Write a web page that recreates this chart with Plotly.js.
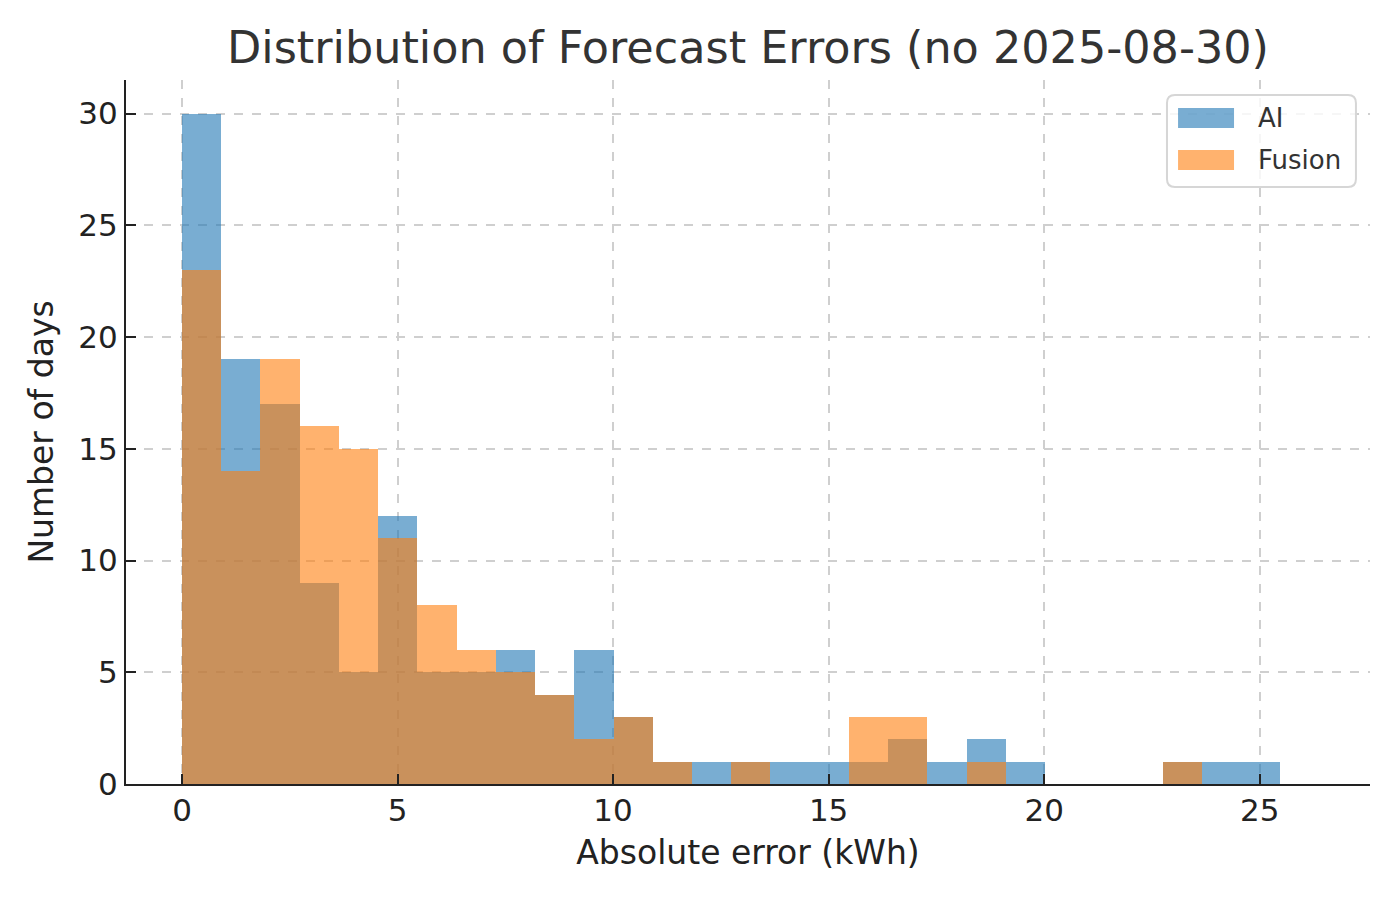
<!DOCTYPE html>
<html>
<head>
<meta charset="utf-8">
<script src="https://cdn.plot.ly/plotly-3.0.1.min.js"></script>
<style>
    html, body { margin: 0; padding: 0; background: #fff; }
    #chart { width: 1400px; height: 900px; }
</style>
</head>
<body>
<div id="chart"></div>
<script>
// histogram bins: 28 equal bins starting at 0
const binStart = 0;
const binWidth = 0.91;

const aiCounts = [30, 19, 17, 9, 5, 12, 5, 5, 6, 4, 6, 3, 1, 1,
    1, 1, 1, 1, 2, 1, 2, 1, 0, 0, 0, 1, 1, 1];
const fusionCounts = [23, 14, 19, 16, 15, 11, 8, 6, 5, 4, 2, 3, 1, 0,
    1, 0, 0, 3, 3, 0, 1, 0, 0, 0, 0, 1, 0, 0];

const seriesNames = ['AI', 'Fusion'];
const xTicks = [0, 5, 10, 15, 20, 25];
const yTicks = [0, 5, 10, 15, 20, 25, 30];

const blue = 'rgba(31,119,180,0.6)';
const orange = 'rgba(255,127,14,0.6)';
const font = 'DejaVu Sans, sans-serif';

const aiTrace = {
    type: 'bar',
    y: aiCounts,
    x0: binStart + binWidth / 2,
    dx: binWidth,
    width: binWidth,
    name: seriesNames[0],
    marker: { color: blue, line: { width: 0 } },
    showlegend: false,
};

const fusionTrace = {
    type: 'bar',
    y: fusionCounts,
    x0: binStart + binWidth / 2,
    dx: binWidth,
    width: binWidth,
    name: seriesNames[1],
    marker: { color: orange, line: { width: 0 } },
    showlegend: false,
};

// legend drawn by hand so the patches get matplotlib's size
function roundRect(x0, y0, x1, y1, rx, ry) {
    return `M${x0 + rx},${y0} L${x1 - rx},${y0} Q${x1},${y0} ${x1},${y0 + ry} ` +
        `L${x1},${y1 - ry} Q${x1},${y1} ${x1 - rx},${y1} L${x0 + rx},${y1} ` +
        `Q${x0},${y1} ${x0},${y1 - ry} L${x0},${y0 + ry} Q${x0},${y0} ${x0 + rx},${y0} Z`;
}

const legendShapes = [
    {
        type: 'path', xref: 'paper', yref: 'paper', layer: 'above',
        path: roundRect(0.8368, 0.848, 0.9887, 0.9787, 0.0064, 0.0114),
        fillcolor: 'rgba(255,255,255,0.8)',
        line: { color: '#d6d6d6', width: 2 },
    },
    {
        type: 'rect', xref: 'paper', yref: 'paper', layer: 'above',
        x0: 0.8457, x1: 0.8907, y0: 0.9318, y1: 0.9602,
        fillcolor: blue, line: { width: 0 },
    },
    {
        type: 'rect', xref: 'paper', yref: 'paper', layer: 'above',
        x0: 0.8457, x1: 0.8907, y0: 0.8722, y1: 0.9006,
        fillcolor: orange, line: { width: 0 },
    },
];

const legendLabels = seriesNames.map((name, i) => ({
    xref: 'paper', yref: 'paper',
    x: 0.9084, y: [0.946, 0.8864][i],
    xanchor: 'left', yanchor: 'middle',
    text: name, showarrow: false,
    font: { family: font, size: 26, color: '#333' },
}));

const layout = {
    width: 1400,
    height: 900,
    margin: { l: 126, r: 30, t: 80, b: 116 },
    paper_bgcolor: '#fff',
    plot_bgcolor: '#fff',
    barmode: 'overlay',
    bargap: 0,
    font: { family: font, color: '#222' },
    title: {
        text: 'Distribution of Forecast Errors (no 2025-08-30)',
        font: { family: font, size: 44.5, color: '#333' },
        x: 0.5, xref: 'paper',
        y: 0.947, yref: 'container', yanchor: 'middle',
    },
    xaxis: {
        range: [-1.3, 27.56],
        tickvals: xTicks,
        ticks: 'inside', ticklen: 10, tickwidth: 2, tickcolor: '#222',
        ticklabelstandoff: -2,
        tickfont: { size: 31, color: '#222' },
        showline: true, linecolor: '#222', linewidth: 2,
        showgrid: true, gridcolor: '#cfcfcf', griddash: 'dash', gridwidth: 1.5,
        zeroline: false,
        title: { text: 'Absolute error (kWh)', font: { size: 33, color: '#222' }, standoff: 14 },
    },
    yaxis: {
        range: [0, 31.5],
        tickvals: yTicks,
        ticks: 'inside', ticklen: 10, tickwidth: 2, tickcolor: '#222',
        ticklabelstandoff: 0,
        tickfont: { size: 31, color: '#222' },
        showline: true, linecolor: '#222', linewidth: 2,
        showgrid: true, gridcolor: '#cfcfcf', griddash: 'dash', gridwidth: 1.5,
        zeroline: false,
        title: { text: 'Number of days', font: { size: 33, color: '#222' }, standoff: 15 },
    },
    shapes: legendShapes,
    annotations: legendLabels,
    showlegend: false,
};

Plotly.newPlot('chart', [aiTrace, fusionTrace], layout, { displayModeBar: false });
</script>
</body>
</html>
